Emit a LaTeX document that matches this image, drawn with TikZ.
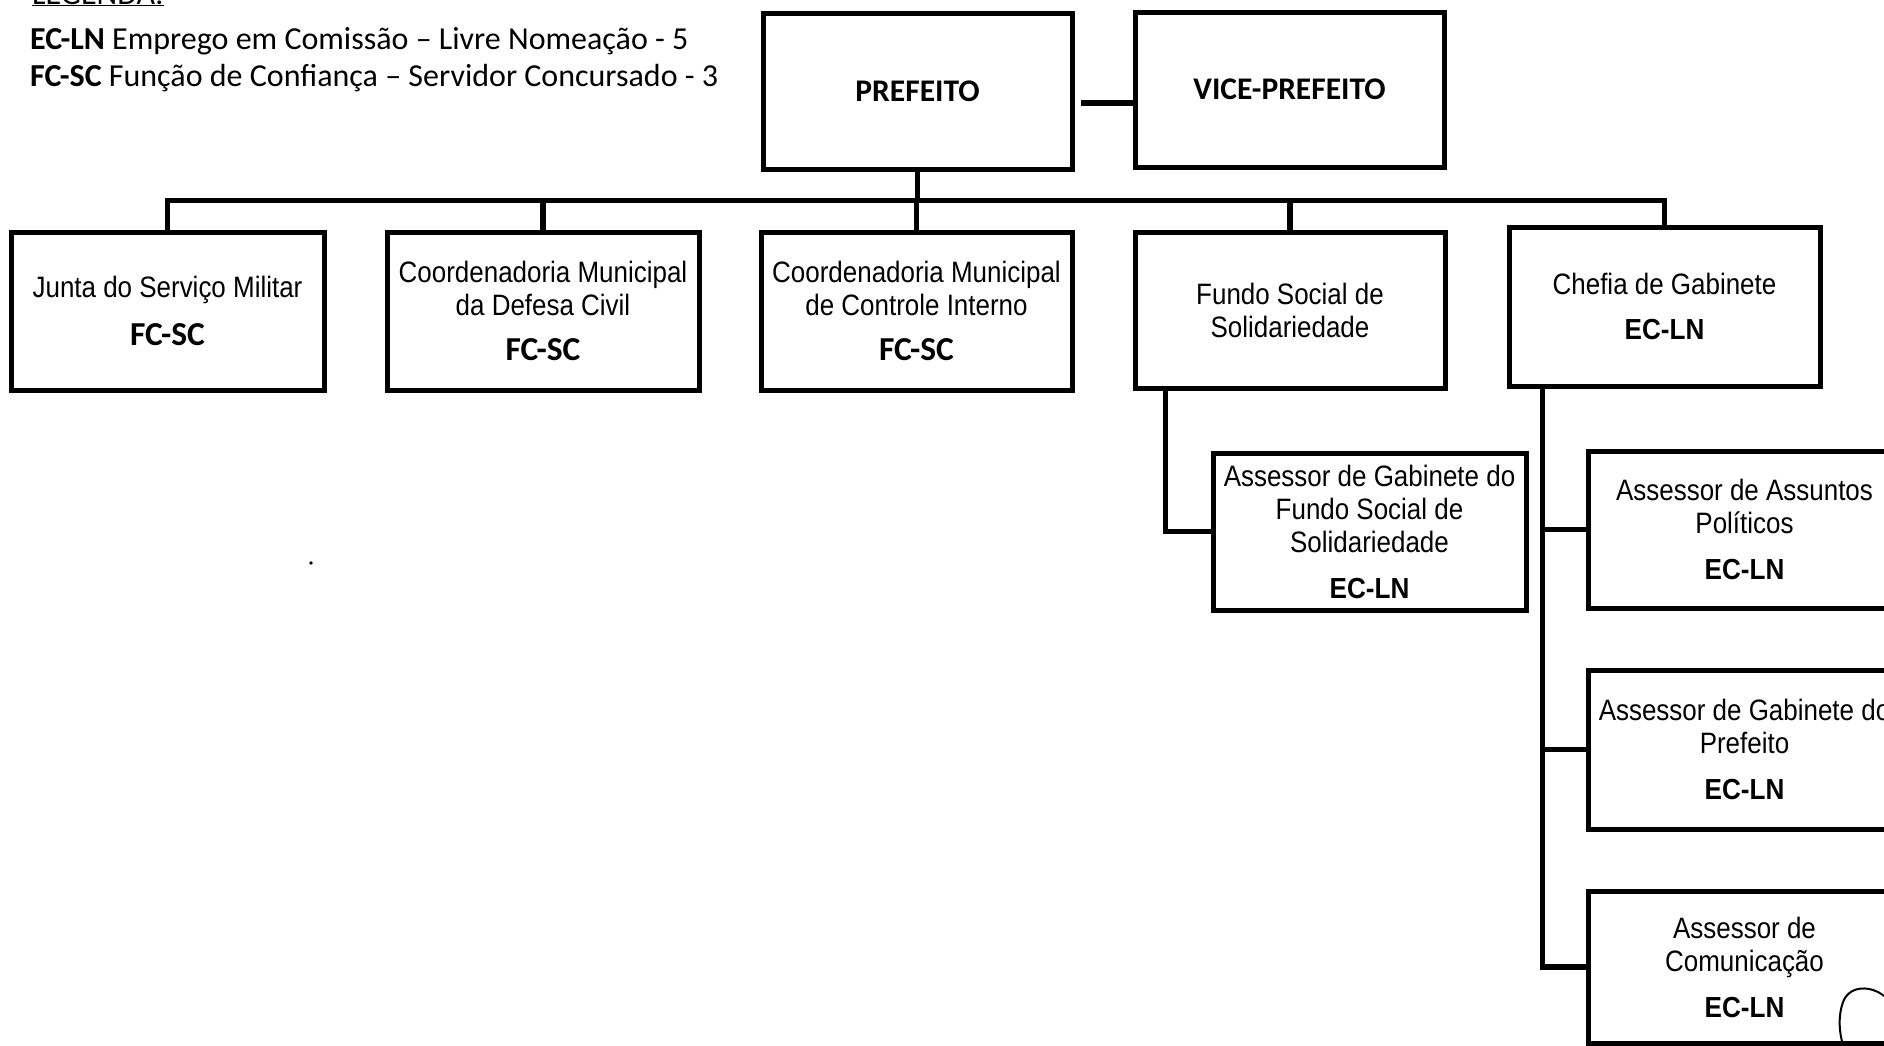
\documentclass[tikz,border=0pt]{standalone}
\usepackage{fontspec}
\setmainfont{Liberation Sans}
\newfontfamily\boxfont[FakeStretch=0.88]{Liberation Sans}
\newfontfamily\arialbfont[FakeStretch=0.9]{Liberation Sans}
\newfontfamily\calfont{Carlito}
\newcommand\fcsc{{\calfont\bfseries\fontsize{33.5}{36}\selectfont FC-SC}}
\newcommand\ecln{{\arialbfont\bfseries\fontsize{29}{33}\selectfont EC-LN}}
\tikzset{
  orgbox/.style={draw, line width=5pt, minimum width=311pt, minimum height=157pt,
    align=center, inner sep=0pt, font=\boxfont\fontsize{29.5}{33}\selectfont},
  topbox/.style={orgbox, font=\calfont\bfseries\fontsize{31.5}{34}\selectfont},
  conn/.style={line width=5.5pt},
  legend/.style={anchor=west, inner sep=0pt, font=\calfont\fontsize{32}{36}\selectfont}
}
\begin{document}
\begin{tikzpicture}[x=1pt,y=-1pt]
\useasboundingbox (0,0) rectangle (1884,1045);
\clip (0,0) rectangle (1884,1045);
% legend
\node[legend, anchor=base west] (leg) at (32,4) {\underline{LEGENDA:}};
\node[legend] (l1) at (30,41) {\textbf{EC-LN} Emprego em Comissão – Livre Nomeação - 5};
\node[legend] (l2) at (30,78) {\textbf{FC-SC} Função de Confiança – Servidor Concursado - 3};
% top
\node[topbox, minimum width=309pt, minimum height=156pt] (pref) at (917.5,91) {PREFEITO};
\node[topbox, minimum width=309pt, minimum height=155pt] (vice) at (1289.5,89.5) {VICE-PREFEITO};
% level 2
\node[orgbox, minimum width=313pt, minimum height=158pt] (junta) at (167.5,311) {Junta do Serviço Militar\\[15pt]\fcsc};
\node[orgbox, minimum width=312pt, minimum height=158pt] (defesa) at (543,311) {Coordenadoria Municipal\\da Defesa Civil\\[12pt]\fcsc};
\node[orgbox, minimum width=311pt, minimum height=158pt] (controle) at (916.5,311) {Coordenadoria Municipal\\de Controle Interno\\[12pt]\fcsc};
\node[orgbox, minimum width=310pt, minimum height=156pt] (fundo) at (1290,310) {Fundo Social de\\Solidariedade};
\node[orgbox, minimum width=311pt, minimum height=159pt] (chefia) at (1664.5,306.5) {Chefia de Gabinete\\[12pt]\ecln};
% level 3
\node[orgbox, minimum width=313pt, minimum height=157pt] (afundo) at (1369.5,531.5) {Assessor de Gabinete do\\Fundo Social de\\Solidariedade\\[13pt]\ecln};
\node[orgbox, minimum width=313pt, minimum height=157pt] (apol) at (1744.5,529.5) {Assessor de Assuntos\\Políticos\\[13pt]\ecln};
\node[orgbox, minimum width=313pt, minimum height=159pt] (agab) at (1744.5,749.5) {Assessor de Gabinete do\\Prefeito\\[13pt]\ecln};
\node[orgbox, minimum width=313pt, minimum height=152pt] (acom) at (1744.5,967) {Assessor de\\Comunicação\\[13pt]\ecln};
% connectors
\draw[conn] ([xshift=6pt,yshift=-12pt]pref.east) -- ([yshift=-13.5pt]vice.west);
\draw[conn] (pref.south) -- ++(0,29) coordinate (bus);
\draw[conn] (junta.north) -- (junta.north |- bus) -- (chefia.north |- bus) -- (chefia.north);
\draw[conn] (defesa.north) -- (defesa.north |- bus);
\draw[conn] (controle.north) -- (controle.north |- bus);
\draw[conn] (fundo.north) -- (fundo.north |- bus);
\draw[conn] ([xshift=33pt]fundo.south west) |- (afundo.west);
\draw[conn] ([xshift=36pt]chefia.south west) coordinate (cv) |- (acom.west);
\draw[conn] (cv |- apol.west) -- (apol.west);
\draw[conn] (cv |- agab.west) -- (agab.west);
% marks on the scan
\draw[line width=2pt] (1884,996) .. controls (1872,986) and (1850,984) .. (1843,1002) .. controls (1838,1016) and (1839,1032) .. (1843,1045);
\fill (311,563) circle (1.8pt);
\end{tikzpicture}
\end{document}
